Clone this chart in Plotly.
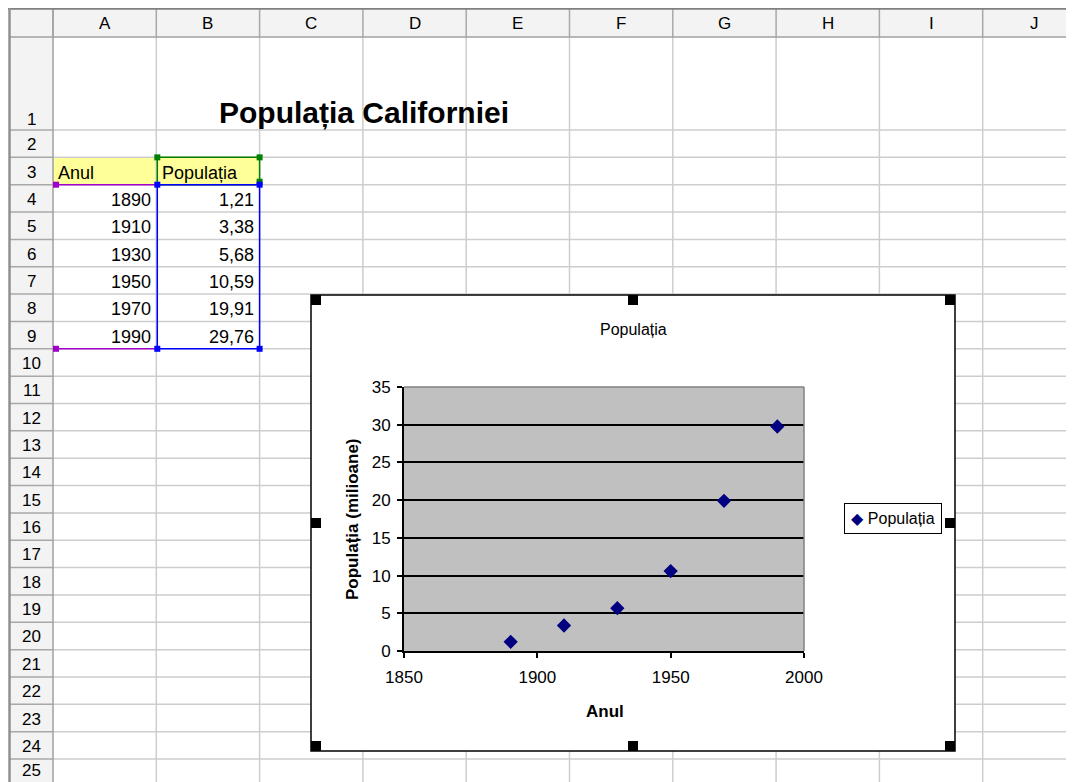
import plotly.graph_objects as go

# ---------------- data ----------------
sheet_title = "Populația Californiei"
col_letters = ["A", "B", "C", "D", "E", "F", "G", "H", "I", "J"]
row_numbers = list(range(1, 26))
header_year = "Anul"
header_pop = "Populația"
years = [1890, 1910, 1930, 1950, 1970, 1990]
population = [1.21, 3.38, 5.68, 10.59, 19.91, 29.76]
chart_title = "Populația"
x_title = "Anul"
y_title = "Populația (milioane)"
series_name = "Populația"

# ---------------- geometry helpers ----------------
OFF = 8  # page body margin
W, H = 1074 - OFF, 782 - OFF
FONT = "Liberation Sans, Arial, sans-serif"


def px(x):
    return (x - OFF) / W


def py(y):
    return 1 - (y - OFF) / H


COL_LEFT = 53.0
COL_W = 103.3
col_edges = [COL_LEFT + k * COL_W for k in range(len(col_letters) + 1)]
HEAD_TOP, HEAD_BOT = 9.0, 37.0
ROW1_BOT = 130.0
ROW_H = 27.35
# row_edges[r-1] = top of spreadsheet row r
row_edges = [HEAD_BOT, ROW1_BOT] + [ROW1_BOT + k * ROW_H for k in range(1, 25)]

shapes = []
annotations = []
RIGHT, BOTTOM = W + OFF + 2, H + OFF + 2


def rect(x0, y0, x1, y1, fill=None, line=None, lw=0, layer="below"):
    d = dict(type="rect", xref="paper", yref="paper",
             x0=px(x0), x1=px(x1), y0=py(y1), y1=py(y0), layer=layer,
             line=dict(width=lw, color=line or "rgba(0,0,0,0)"))
    if fill:
        d["fillcolor"] = fill
    shapes.append(d)


def hline(x0, x1, y, color, w, layer="below"):
    shapes.append(dict(type="line", xref="paper", yref="paper", x0=px(x0), x1=px(x1),
                       y0=py(y), y1=py(y), line=dict(color=color, width=w), layer=layer))


def vline(x, y0, y1, color, w, layer="below"):
    shapes.append(dict(type="line", xref="paper", yref="paper", x0=px(x), x1=px(x),
                       y0=py(y0), y1=py(y1), line=dict(color=color, width=w), layer=layer))


def text(x, y, s, size=17, xanchor="center", bold=False, color="black", angle=0):
    annotations.append(dict(xref="paper", yref="paper", x=px(x), y=py(y), text=("<b>%s</b>" % s) if bold else s,
                            showarrow=False, xanchor=xanchor, yanchor="middle", textangle=angle,
                            font=dict(family=FONT, size=size, color=color)))


# ---------------- spreadsheet ----------------
rect(10, HEAD_TOP, RIGHT, HEAD_BOT, fill="#F3F3F3")
rect(10, HEAD_TOP, COL_LEFT, BOTTOM, fill="#F3F3F3")
# yellow header cells (row 3)
rect(col_edges[0], row_edges[2], col_edges[1], row_edges[3], fill="#FFFF99")
rect(col_edges[1], row_edges[2], col_edges[2], row_edges[3], fill="#FFFF99")

for xe in col_edges[1:]:
    vline(xe, HEAD_BOT, BOTTOM, "#CDCDCD", 1.5)
for ye in row_edges[1:]:
    hline(COL_LEFT, RIGHT, ye, "#CDCDCD", 1.5)
for xe in col_edges:
    vline(xe, HEAD_TOP, HEAD_BOT, "#A8A8A8", 1.5)
for ye in row_edges[1:]:
    hline(10, COL_LEFT, ye, "#A8A8A8", 1.5)
hline(10, RIGHT, HEAD_BOT, "#A0A0A0", 1.5)
vline(COL_LEFT, HEAD_TOP, BOTTOM, "#A0A0A0", 1.5)
hline(8, RIGHT, 8.5, "#808080", 2.5)
vline(9.5, 8, BOTTOM, "#909090", 2.5)

for i, c in enumerate(col_letters):
    text((col_edges[i] + col_edges[i + 1]) / 2, 23.5, c)
for i, r in enumerate(row_numbers):
    top = row_edges[i]
    bot = row_edges[i + 1] if i + 1 < len(row_edges) else row_edges[i] + ROW_H
    yc = bot - 10 if r == 1 else (top + bot) / 2 + 1
    if r == 25:
        yc = top + 11
    text(31.5, yc, str(r))

text(217, 113, sheet_title, size=30, xanchor="left", bold=True)

r3c = (row_edges[2] + row_edges[3]) / 2 + 1.5
text(col_edges[0] + 3, r3c, header_year, size=18, xanchor="left")
text(col_edges[1] + 4, r3c, header_pop, size=18, xanchor="left")
for k, (yr, pv) in enumerate(zip(years, population)):
    yc = (row_edges[3 + k] + row_edges[4 + k]) / 2 + 1.5
    text(col_edges[1] - 3, yc, str(yr), size=18, xanchor="right")
    text(col_edges[2] - 4, yc, ("%.2f" % pv).replace(".", ","), size=18, xanchor="right")

t_top, t_h4, t_bot = row_edges[2], row_edges[3], row_edges[9]
hline(55, col_edges[1], t_h4, "#A000C8", 1.5)
hline(55, col_edges[1], t_bot, "#A000C8", 1.5)
rect(col_edges[1] + 1, t_top, col_edges[2], t_h4, line="#008000", lw=1.5)
rect(col_edges[1] + 1, t_h4, col_edges[2], t_bot, line="#0000FF", lw=1.5)
for (hx, hy, col) in [(col_edges[1] + 1, t_top, "#008000"), (col_edges[2], t_top, "#008000"),
                      (col_edges[2], t_h4 - 3, "#008000"),
                      (56, t_h4, "#A000C8"), (56, t_bot, "#A000C8"),
                      (col_edges[1] + 1, t_h4, "#0000FF"), (col_edges[2], t_h4, "#0000FF"),
                      (col_edges[1] + 1, t_bot, "#0000FF"), (col_edges[2], t_bot, "#0000FF")]:
    rect(hx - 3, hy - 3, hx + 3, hy + 3, fill=col)

# ---------------- chart object ----------------
CX0, CY0, CX1, CY1 = 311, 295, 955, 751
rect(CX0, CY0, CX1, CY1, fill="white", line="black", lw=1.5)
shapes.append(dict(type="rect", xref="x domain", yref="y domain", x0=0, x1=1, y0=0, y1=1,
                   fillcolor="#C0C0C0", line=dict(width=0), layer="below"))
shapes.append(dict(type="line", xref="x domain", yref="y domain", x0=0, x1=1, y0=1, y1=1,
                   line=dict(color="#808080", width=1.5), layer="above"))
shapes.append(dict(type="line", xref="x domain", yref="y domain", x0=1, x1=1, y0=0, y1=1,
                   line=dict(color="#808080", width=1.5), layer="above"))
cmx, cmy = (CX0 + CX1) / 2, (CY0 + CY1) / 2
for hx, hy in [(CX0, CY0), (cmx - 5, CY0), (CX1 - 10, CY0), (CX0, cmy - 5), (CX1 - 10, cmy - 5),
               (CX0, CY1 - 10), (cmx - 5, CY1 - 10), (CX1 - 10, CY1 - 10)]:
    rect(hx, hy, hx + 10, hy + 10, fill="black")

text(cmx, 329, chart_title, size=16)
text(605, 711, x_title, size=17, bold=True)
text(352, 519, y_title, size=17, bold=True, angle=-90)

annotations.append(dict(xref="paper", yref="paper", x=px(893), y=py(518.5), xanchor="center", yanchor="middle",
                        showarrow=False, text='<span style="color:#000080">◆</span> ' + series_name,
                        font=dict(family=FONT, size=16, color="black"), bgcolor="white",
                        bordercolor="black", borderwidth=1, borderpad=3, width=90, height=23))

fig = go.Figure()
fig.add_trace(go.Scatter(x=years, y=population, mode="markers", name=series_name,
                         marker=dict(symbol="diamond", size=11, color="#000080", line=dict(width=0)),
                         showlegend=False))

fig.update_layout(
    width=W, height=H, margin=dict(l=0, r=0, t=0, b=0, pad=0, autoexpand=False),
    paper_bgcolor="white", plot_bgcolor="rgba(0,0,0,0)",
    shapes=shapes, annotations=annotations, showlegend=False,
    xaxis=dict(domain=[px(404), px(804)], range=[1850, 2000], tick0=1850, dtick=50,
               showgrid=False, zeroline=False, showline=True, linecolor="black", linewidth=2,
               ticks="outside", ticklen=5, tickwidth=2, tickcolor="black", ticklabelstandoff=5,
               tickfont=dict(family=FONT, size=17, color="black"), fixedrange=True, automargin=False),
    yaxis=dict(domain=[py(651), py(387)], range=[0, 35], tick0=0, dtick=5,
               showgrid=True, gridcolor="black", gridwidth=1.6, zeroline=False,
               showline=True, linecolor="black", linewidth=2,
               ticks="outside", ticklen=5, tickwidth=2, tickcolor="black", ticklabelstandoff=3,
               tickfont=dict(family=FONT, size=17, color="black"), fixedrange=True, automargin=False),
)

fig.write_html("out.html")
